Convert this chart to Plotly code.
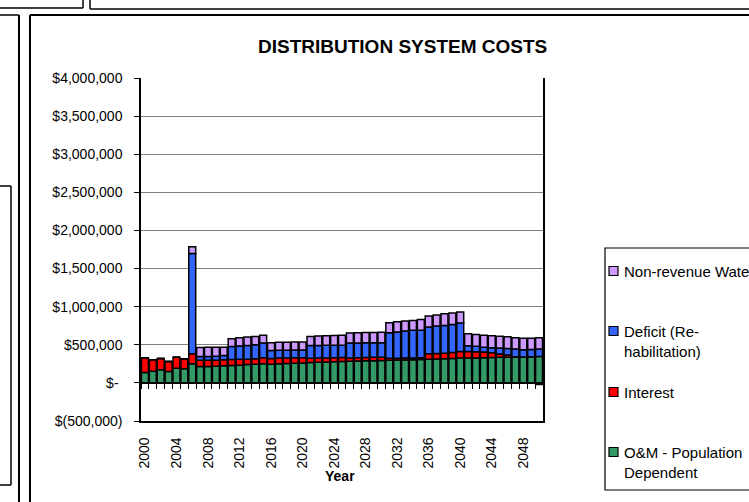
import plotly.graph_objects as go

W, H = 749, 502

years = list(range(2000, 2051))

# values in $ thousands
om = [136, 153, 171, 149, 193, 184, 250, 215, 215, 219, 224, 228, 230, 241, 243, 250,
      245, 250, 254, 258, 262, 266, 270, 273, 276, 280, 283, 286, 289, 291, 293,
      296, 299, 301, 303, 306, 309, 312, 316, 320, 325, 325, 327, 330, 333, 336,
      338, 340, 340, 343, 346]
interest = [193, 150, 149, 132, 145, 132, 132, 81, 81, 79, 79, 79, 80, 70, 75, 79,
            75, 75, 73, 71, 69, 56, 55, 55, 55, 54, 45, 45, 44, 44, 44,
            26, 25, 25, 25, 25, 73, 74, 74, 80, 87, 87, 83, 75, 62, 44,
            27, 3, 0, 0, -20]
deficit = [0, 0, 0, 0, 0, 0, 1315, 50, 50, 50, 57, 171, 175, 180, 182, 193,
           105, 102, 101, 101, 101, 169, 167, 165, 163, 161, 194, 193, 192, 191, 190,
           336, 343, 354, 361, 361, 350, 359, 364, 367, 373, 75, 72, 64, 67, 78,
           87, 102, 96, 95, 97]
nrw = [0, 0, 0, 0, 0, 0, 88, 119, 121, 119, 109, 101, 107, 110, 110, 103,
       101, 105, 105, 105, 104, 119, 123, 125, 128, 130, 133, 134, 135, 136, 137,
       131, 136, 131, 131, 141, 145, 145, 154, 150, 145, 158, 154, 156, 156, 154,
       153, 148, 149, 147, 149]

series_names = ["O&M - Population<br>Dependent", "Interest", "Deficit (Re-<br>habilitation)", "Non-revenue Water"]
series_vals = [om, interest, deficit, nrw]
series_colors = ["#339966", "#FF0000", "#3366FF", "#CC99FF"]

y_ticks = [-500000, 0, 500000, 1000000, 1500000, 2000000, 2500000, 3000000, 3500000, 4000000]
y_ticktext = ["$(500,000)", "$-\u00a0", "$500,000", "$1,000,000", "$1,500,000",
              "$2,000,000", "$2,500,000", "$3,000,000", "$3,500,000", "$4,000,000"]
x_ticks = list(range(2000, 2049, 4))

FONT = "Liberation Sans, Arial, sans-serif"

def px(x):
    return x / W

def py(y):
    return 1 - y / H

PL, PR, PT, PB = 141, 543, 78, 421
ymin, ymax = -500000, 4000000

fig = go.Figure()
for name, vals, col in zip(series_names, series_vals, series_colors):
    fig.add_trace(go.Bar(
        x=years, y=[v * 1000 for v in vals], name=name,
        marker=dict(color=col, line=dict(color="black", width=1.5)),
        showlegend=False,
    ))

fig.add_trace(go.Scatter(x=[years[0]], y=[0], xaxis="x2", mode="markers",
                         marker=dict(opacity=0), hoverinfo="skip", showlegend=False))

ydom = [py(PB), py(PT)]
zero_pos = ydom[0] + (0 - ymin) / (ymax - ymin) * (ydom[1] - ydom[0])

fig.update_layout(
    width=W, height=H,
    margin=dict(l=0, r=0, t=0, b=0, autoexpand=False),
    paper_bgcolor="white", plot_bgcolor="white",
    barmode="relative", bargap=0.12,
    font=dict(family=FONT, size=14, color="black"),
    xaxis=dict(
        domain=[px(PL), px(PR)], range=[years[0] - 0.5, years[-1] + 0.5],
        tickvals=x_ticks, ticktext=[str(t) for t in x_ticks], tickangle=-90,
        ticks="", showgrid=False, zeroline=False, automargin=False,
        showline=True, linecolor="black", linewidth=1.5,
        ticklabelstandoff=9, tickfont=dict(size=14),
    ),
    xaxis2=dict(
        overlaying="x", anchor="free", position=zero_pos, automargin=False,
        range=[years[0] - 0.5, years[-1] + 0.5],
        tickvals=[y - 0.5 for y in years] + [years[-1] + 0.5],
        ticks="outside", ticklen=5, tickcolor="black", tickwidth=1,
        showticklabels=False, showgrid=False, zeroline=False,
        showline=True, linecolor="black", linewidth=1.5,
    ),
    yaxis=dict(
        domain=ydom, range=[ymin, ymax], automargin=False,
        tickvals=y_ticks, ticktext=y_ticktext,
        ticks="outside", ticklen=5, tickcolor="black",
        showgrid=True, gridcolor="#808080", gridwidth=1,
        zeroline=False, showline=True, linecolor="black", linewidth=1.5, mirror=True,
        ticklabelstandoff=9, tickfont=dict(size=14),
    ),
)

shapes = []
def line(x0, y0, x1, y1, w=1.5):
    shapes.append(dict(type="line", xref="paper", yref="paper",
                       x0=px(x0), y0=py(y0), x1=px(x1), y1=py(y1),
                       line=dict(color="black", width=w)))

line(0, 8, 83, 8); line(83, 0, 83, 8)
line(90, 0, 90, 9); line(90, 9, 760, 9)
line(0, 15, 19, 15); line(19, 15, 19, 510, 2)
line(30, 15, 760, 15, 2); line(30, 15, 30, 510, 2)
line(0, 186, 11, 186); line(11, 186, 11, 485); line(0, 485, 11, 485)

shapes.append(dict(type="rect", xref="paper", yref="paper",
                   x0=px(605), x1=px(770), y0=py(490), y1=py(248),
                   line=dict(color="black", width=1.2), fillcolor="white"))

legend_items = [
    ("Non-revenue Water", series_colors[3], 271),
    ("Deficit (Re-<br>habilitation)", series_colors[2], 331),
    ("Interest", series_colors[1], 392),
    ("O&M - Population<br>Dependent", series_colors[0], 452),
]
annotations = []
for text, col, yc in legend_items:
    shapes.append(dict(type="rect", xref="paper", yref="paper",
                       x0=px(609), x1=px(618), y0=py(yc + 4.5), y1=py(yc - 4.5),
                       line=dict(color="black", width=1.2), fillcolor=col))
    annotations.append(dict(text=text, xref="paper", yref="paper",
                            x=px(622), y=py(yc - 10), xanchor="left", yanchor="top",
                            showarrow=False, align="left",
                            font=dict(size=15, family=FONT, color="black")))

annotations.append(dict(text="<b>DISTRIBUTION SYSTEM COSTS</b>", xref="paper", yref="paper",
                        x=px(402), y=py(46), xanchor="center", yanchor="middle",
                        showarrow=False, font=dict(size=19, family=FONT, color="black")))
annotations.append(dict(text="<b>Year</b>", xref="paper", yref="paper",
                        x=px(340), y=py(476), xanchor="center", yanchor="middle",
                        showarrow=False, font=dict(size=14, family=FONT, color="black")))

fig.update_layout(shapes=shapes, annotations=annotations)
fig.write_html("out.html")
